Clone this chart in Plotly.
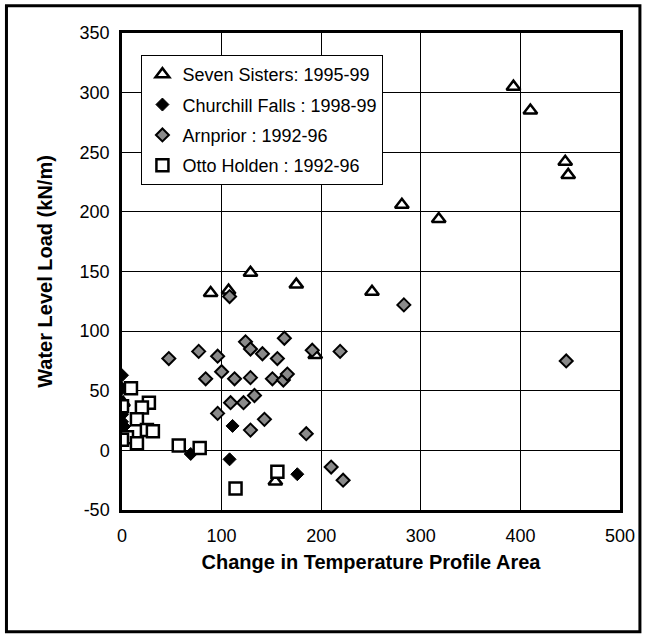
import plotly.graph_objects as go

# ---- data ----
seven_x = [393, 410, 445, 448, 281, 318, 89, 107, 129, 175, 251, 194, 154, 1]
seven_y = [305, 285, 242, 231, 206, 194, 132, 134, 149, 139, 133, 80, -26, 40]

church_x = [0, 0, 0, 0, 2, 111, 69, 108, 176]
church_y = [63, 52, 30, 24, 20, 20.5, -3, -7.5, -20]

arn_x = [47, 77, 96, 100, 84, 113, 129, 124, 129, 141, 151, 163, 156, 191, 219,
         162, 166, 133, 122, 109, 96, 129, 143, 185, 108, 283, 446, 210, 222]
arn_y = [77, 83, 79, 66, 60, 60, 61, 91, 85, 81, 60, 94, 77, 84, 83,
         59, 64, 46, 40, 40, 31, 17, 26, 14, 129, 122, 75, -14, -25]

otto_x = [9, 0, 27, 20, 15, 25, 31, 5, 0, 15, 57, 78, 114, 156]
otto_y = [52, 37, 40, 36, 26, 17, 16, 11, 9, 6, 4, 2, -32, -18]

names = ["Seven Sisters: 1995-99", "Churchill Falls : 1998-99",
         "Arnprior : 1992-96", "Otto Holden : 1992-96"]

x_ticks = [0, 100, 200, 300, 400, 500]
x_tick_labels = ["0", "100", "200", "300", "400", "500"]
y_ticks = [-50, 0, 50, 100, 150, 200, 250, 300, 350]
y_tick_labels = ["-50", "0", "50", "100", "150", "200", "250", "300", "350"]

FONT = "Liberation Sans, Arial, sans-serif"

fig = go.Figure()
fig.add_trace(go.Scatter(x=seven_x, y=seven_y, mode="markers", name=names[0],
                         legendgroup="a",
                         marker=dict(symbol="triangle-up", size=12, color="white",
                                     line=dict(color="black", width=2.5))))
fig.add_trace(go.Scatter(x=church_x, y=church_y, mode="markers", name=names[1],
                         legendgroup="b",
                         marker=dict(symbol="diamond", size=10, color="black",
                                     line=dict(color="black", width=1))))
fig.add_trace(go.Scatter(x=arn_x, y=arn_y, mode="markers", name=names[2],
                         legendgroup="c",
                         marker=dict(symbol="diamond", size=10, color="#8a8a8a",
                                     line=dict(color="black", width=2))))
fig.add_trace(go.Scatter(x=otto_x, y=otto_y, mode="markers", name=names[3],
                         legendgroup="d",
                         marker=dict(symbol="square", size=12, color="white",
                                     line=dict(color="black", width=2.5))))

axis_common = dict(showgrid=True, gridcolor="black", gridwidth=1,
                   zeroline=False, showline=True, linecolor="black",
                   linewidth=2.5, mirror=True, ticks="",
                   tickfont=dict(family=FONT, size=18, color="black"))

fig.update_xaxes(range=[0, 500], tickvals=x_ticks, ticktext=x_tick_labels,
                 ticklabelstandoff=8,
                 title=dict(text="<b>Change in Temperature Profile Area</b>",
                            font=dict(family=FONT, size=20, color="black"),
                            standoff=10),
                 **axis_common)
fig.update_yaxes(range=[-50, 350], tickvals=y_ticks, ticktext=y_tick_labels,
                 ticklabelstandoff=6,
                 title=dict(text="<b>Water Level Load (kN/m)</b>",
                            font=dict(family=FONT, size=20, color="black"),
                            standoff=22),
                 **axis_common)

fig.update_layout(
    width=647, height=635,
    margin=dict(l=122, r=23, t=33, b=125),
    paper_bgcolor="white", plot_bgcolor="white",
    font=dict(family=FONT, size=18, color="black"),
    showlegend=True,
    legend=dict(x=0.039, y=0.954, xanchor="left", yanchor="top",
                bgcolor="white", bordercolor="black", borderwidth=1,
                font=dict(family=FONT, size=18, color="black"),
                traceorder="grouped", tracegroupgap=4,
                itemwidth=30),
    shapes=[dict(type="rect", xref="paper", yref="paper",
                 x0=-0.232, x1=1.04, y0=-0.255, y1=1.057,
                 line=dict(color="black", width=3), layer="below")],
)

fig.write_html("out.html",
               config={"displayModeBar": False},
               post_script="document.body.style.margin='0';document.body.style.overflow='hidden';")
